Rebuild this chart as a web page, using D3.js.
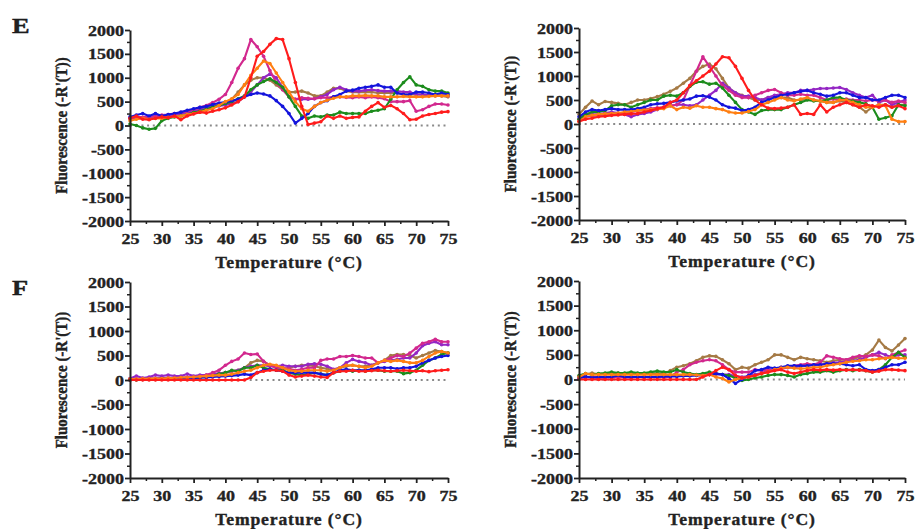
<!DOCTYPE html>
<html><head><meta charset="utf-8">
<script src="https://cdn.jsdelivr.net/npm/d3@7/dist/d3.min.js"></script>
<style>
body{margin:0;background:#fff;}
svg{display:block;}
text{font-family:"Liberation Serif","Times New Roman",serif;font-weight:bold;fill:#222;}
</style></head>
<body><svg id="chart" width="916" height="529"></svg>
<script>
const temps = d3.range(25, 76, 1);
const xTicks = [25,30,35,40,45,50,55,60,65,70,75];
const yTicks = [-2000,-1500,-1000,-500,0,500,1000,1500,2000];
const seriesNames = ["brown","purple","magenta","green","blue","orange","red"];
const seriesColors = {brown:"#a57a45",purple:"#9426c4",magenta:"#d2288e",green:"#1c8c1c",blue:"#1414dc",orange:"#ff7f12",red:"#ff1c1c"};

// Panel E left
const e1_blue=[180,220,250,200,250,200,230,250,280,320,350,380,400,440,470,490,520,550,600,650,680,660,620,520,400,250,50,150,250,400,480,520,600,650,720,740,780,800,820,850,800,800,680,650,650,700,700,680,650,680,650];
const e1_green=[30,0,-50,-80,-60,100,150,180,200,230,270,300,340,380,420,460,500,560,620,750,850,920,980,900,800,600,400,200,150,200,180,220,220,280,250,250,250,250,300,320,350,550,750,900,1020,850,820,750,720,720,680];
const e1_magenta=[150,180,170,180,200,220,230,250,270,300,330,380,420,480,550,650,900,1200,1400,1800,1650,1450,1150,900,750,600,550,580,570,560,580,580,600,600,590,580,600,580,600,580,560,500,500,500,520,300,330,400,450,450,430];
const e1_red=[150,200,130,120,150,180,160,200,120,200,240,280,260,300,330,370,430,500,600,1000,1450,1550,1700,1820,1800,1400,900,400,20,50,80,200,150,200,150,170,180,300,400,480,380,420,350,250,120,130,200,230,250,280,290];
const e1_orange=[100,130,150,130,150,150,170,190,200,230,250,280,320,350,420,500,560,650,850,1050,1200,1350,1300,1100,900,700,500,350,300,400,480,530,570,600,600,620,620,630,620,620,600,600,600,610,600,600,600,610,620,620,620];
const e1_brown=[150,170,160,170,180,180,200,220,250,280,300,330,370,400,440,480,550,700,850,950,1000,1000,950,850,750,700,700,720,680,620,620,700,780,780,720,700,700,700,700,680,680,680,680,650,650,650,650,630,620,620,600];
const e1_purple=[150,160,170,170,180,180,200,220,250,280,300,330,360,390,410,430,460,500,600,700,850,1000,1080,1000,800,600,550,550,550,560,600,650,750,800,750,720,720,740,750,730,720,720,720,700,700,650,650,640,630,630,620];

// Panel E right
const e2_brown=[200,350,480,400,470,450,430,400,450,500,500,530,570,620,680,750,850,950,1100,1200,1250,1150,950,750,650,600,550,500,500,550,550,550,550,500,500,520,500,480,450,450,480,450,400,350,250,350,400,400,350,400,400];
const e2_magenta=[100,150,170,180,190,200,220,230,250,270,300,320,340,350,380,400,500,800,1100,1400,1200,1000,800,700,600,550,550,600,650,700,720,650,600,600,620,600,600,550,500,520,500,520,500,500,480,500,480,500,450,480,450];
const e2_red=[50,100,120,150,160,180,190,200,210,220,250,280,320,350,450,500,650,800,900,1000,1100,1250,1400,1380,1200,950,700,500,400,330,320,330,350,400,200,220,200,400,250,350,400,450,400,350,400,380,350,400,350,380,320];
const e2_green=[100,200,250,250,280,380,400,400,350,400,450,500,500,580,600,580,650,780,870,880,830,850,750,600,450,300,250,200,280,300,300,300,350,400,450,500,480,480,500,550,550,500,480,450,420,350,100,130,170,400,380];
const e2_blue=[150,250,300,280,300,320,300,300,300,320,350,400,420,430,450,480,500,520,580,590,560,500,400,350,330,280,300,350,450,500,550,600,620,650,680,700,650,620,580,600,650,650,600,550,550,500,500,550,600,600,550];
const e2_purple=[100,200,200,200,230,250,230,200,150,200,220,250,300,350,380,400,400,380,400,500,600,700,850,750,650,580,580,550,500,550,600,620,650,650,700,700,720,740,740,750,760,720,650,600,550,600,450,500,400,450,500];
const e2_orange=[50,150,180,200,210,220,230,250,260,280,290,300,310,320,380,300,350,330,380,350,350,320,300,250,230,230,260,300,400,450,500,550,500,480,520,550,500,480,450,450,500,500,450,400,350,350,400,380,100,50,50];

// Panel F left
const f1_red=[0,0,0,0,0,0,0,0,0,0,0,0,0,0,0,0,0,0,0,50,150,180,200,200,180,100,60,80,100,80,60,50,150,180,180,200,180,180,190,200,190,180,190,200,190,180,190,170,190,200,210];
const f1_magenta=[20,20,20,30,30,30,40,40,40,50,50,70,100,150,200,300,380,430,550,520,530,380,300,250,250,230,200,220,250,250,400,430,430,480,480,500,480,450,450,350,400,450,500,480,550,650,750,780,830,780,780];
const f1_purple=[30,80,40,60,100,80,100,80,80,120,80,100,100,120,130,150,180,200,250,280,300,300,280,280,300,280,280,280,320,330,320,280,220,250,350,420,380,350,300,350,380,400,420,450,450,550,700,750,780,720,720];
const f1_brown=[20,20,30,30,30,40,40,40,50,50,50,70,90,110,130,150,180,200,250,350,400,380,300,250,220,250,280,300,300,280,250,230,200,250,280,300,280,280,300,350,400,500,520,520,500,450,500,550,600,580,550];
const f1_green=[0,0,10,10,10,20,20,20,30,30,30,50,60,80,120,150,200,180,250,250,300,250,220,200,200,150,120,100,120,150,120,100,150,180,200,180,200,180,200,200,180,180,180,130,150,200,300,400,450,520,550];
const f1_blue=[0,10,10,20,20,30,30,30,40,40,40,50,50,60,70,80,90,100,120,100,150,200,220,200,180,150,150,150,150,150,120,100,150,200,220,200,200,200,220,250,250,250,230,250,250,280,350,400,450,480,500];
const f1_orange=[20,20,25,25,30,30,40,40,50,50,60,70,80,90,100,100,120,150,180,200,250,300,320,300,250,200,180,180,200,200,200,180,200,250,300,300,280,250,280,350,400,380,400,380,350,350,400,480,550,580,550];

// Panel F right
const f2_brown=[50,100,130,100,120,120,130,120,120,120,110,120,120,120,180,250,280,320,380,450,480,470,400,320,200,250,230,300,350,400,500,500,450,400,450,420,400,380,350,380,400,400,420,450,500,600,800,650,580,700,830];
const f2_magenta=[50,50,50,50,50,50,50,50,50,50,50,50,50,50,50,150,200,300,350,380,400,380,300,200,150,150,150,200,180,200,200,250,250,280,300,320,300,350,480,450,420,400,450,480,470,500,480,420,500,550,600];
const f2_purple=[30,40,40,30,40,40,50,40,40,50,50,50,60,60,70,80,80,90,90,100,100,110,100,100,70,50,70,100,130,170,200,220,240,250,270,280,290,300,320,340,350,370,380,400,450,500,550,500,450,500,500];
const f2_green=[80,120,100,120,130,150,130,130,150,130,130,150,170,150,150,200,150,120,100,120,150,120,100,80,30,-20,0,30,50,80,100,100,80,50,100,120,150,150,180,150,180,200,180,200,180,150,200,300,450,550,450];
const f2_blue=[30,60,40,50,50,50,80,50,50,50,50,50,50,60,60,60,70,70,80,80,100,120,100,20,-80,0,80,180,200,250,230,250,280,280,280,280,300,300,320,320,320,300,280,300,200,180,200,250,300,300,350];
const f2_red=[0,0,0,0,0,0,0,0,0,0,0,0,0,0,0,0,0,0,0,50,100,180,250,200,80,30,50,80,120,150,180,200,150,120,150,180,200,190,200,190,200,190,200,190,180,150,170,200,200,190,180];
const f2_orange=[50,120,100,100,100,100,100,100,100,100,100,100,100,100,100,100,100,100,90,80,100,50,20,-50,0,30,50,80,120,150,200,230,250,230,220,230,250,250,280,300,320,350,370,380,400,400,420,430,450,430,430];

const panels = [
  {x0:130,x1:448,yT:30,yB:221,label:"E",lx:12,ly:33,ylx:63,
   data:{brown:e1_brown,purple:e1_purple,magenta:e1_magenta,green:e1_green,blue:e1_blue,orange:e1_orange,red:e1_red}},
  {x0:579,x1:905,yT:28,yB:220,label:null,ylx:512,
   data:{brown:e2_brown,purple:e2_purple,magenta:e2_magenta,green:e2_green,blue:e2_blue,orange:e2_orange,red:e2_red}},
  {x0:130,x1:448,yT:282,yB:478,label:"F",lx:12,ly:295,ylx:63,
   data:{brown:f1_brown,purple:f1_purple,magenta:f1_magenta,green:f1_green,blue:f1_blue,orange:f1_orange,red:f1_red}},
  {x0:579,x1:905,yT:281,yB:478,label:null,ylx:512,
   data:{brown:f2_brown,purple:f2_purple,magenta:f2_magenta,green:f2_green,blue:f2_blue,orange:f2_orange,red:f2_red}}
];

const svg = d3.select("#chart");
const SX = 1.2;
const fmt = d => String(d);

panels.forEach(p => {
  const x = d3.scaleLinear().domain([25,75]).range([p.x0,p.x1]);
  const y = d3.scaleLinear().domain([-2000,2000]).range([p.yB,p.yT]);
  const g = svg.append("g");

  // zero dotted line
  g.append("line").attr("x1",x(25)).attr("x2",x(75)).attr("y1",y(0)).attr("y2",y(0))
    .attr("stroke","#8a8a8a").attr("stroke-width",2).attr("stroke-dasharray","2,3.7");

  // series
  const line = d3.line().x((d,i)=>x(temps[i])).y(d=>y(d));
  seriesNames.forEach(name => {
    const vals = p.data[name];
    const c = seriesColors[name];
    g.append("path").datum(vals).attr("d",line).attr("fill","none")
      .attr("stroke",c).attr("stroke-width",2.1).attr("stroke-linejoin","round");
    g.selectAll(null).data(vals).enter().append("circle")
      .attr("cx",(d,i)=>x(temps[i])).attr("cy",d=>y(d)).attr("r",1.8).attr("fill",c);
  });

  // minor ticks
  const xa = g.append("g").attr("transform",`translate(0,${p.yB})`)
    .call(d3.axisBottom(x).tickValues(d3.range(27.5,75,5)).tickSize(3).tickFormat(""));
  xa.select(".domain").remove();
  const ya = g.append("g").attr("transform",`translate(${p.x0},0)`)
    .call(d3.axisLeft(y).tickValues(d3.range(-1750,2000,500)).tickSize(3).tickFormat(""));
  ya.select(".domain").remove();
  [xa,ya].forEach(a=>a.selectAll("line").attr("stroke","#222").attr("stroke-width",1.5));

  // major axes
  const xAxis = g.append("g").attr("transform",`translate(0,${p.yB})`)
    .call(d3.axisBottom(x).tickValues(xTicks).tickFormat(fmt).tickSize(5).tickSizeOuter(0));
  const yAxis = g.append("g").attr("transform",`translate(${p.x0},0)`)
    .call(d3.axisLeft(y).tickValues(yTicks).tickFormat(fmt).tickSize(5).tickSizeOuter(0));
  [xAxis,yAxis].forEach(a=>{
    a.select(".domain").attr("stroke","#222").attr("stroke-width",2);
    a.selectAll(".tick line").attr("stroke","#222").attr("stroke-width",1.8);
    a.selectAll("text").attr("font-size",15).attr("fill","#222")
      .attr("stroke","#222").attr("stroke-width",0.35)
      .style("font-family","'Liberation Serif',serif").style("font-weight","bold");
  });
  xAxis.selectAll("text").attr("x",0).attr("y",0).attr("dy",0)
    .attr("transform",`translate(0,23) scale(${SX},1)`);
  yAxis.selectAll("text").attr("x",0).attr("dy",0)
    .attr("transform",`translate(-6,5) scale(${SX},1)`);

  // axis titles
  g.append("text").attr("transform",`translate(${(p.x0+p.x1)/2},${p.yB+47}) scale(1.1,1)`)
    .attr("text-anchor","middle").attr("font-size",16).attr("letter-spacing","0.8px")
    .attr("stroke","#222").attr("stroke-width",0.35)
    .text("Temperature (°C)");
  g.append("text").attr("transform",`translate(${p.ylx},${(p.yT+p.yB)/2}) rotate(-90) scale(1,1.15)`)
    .attr("text-anchor","middle").attr("dominant-baseline","middle").attr("font-size",15)
    .attr("stroke","#222").attr("stroke-width",0.35)
    .text("Fluorescence (-R'(T))");

  if (p.label) {
    g.append("text").attr("transform",`translate(${p.lx},${p.ly}) scale(1.2,1)`)
      .attr("font-size",22).attr("fill","#111").attr("stroke","#111").attr("stroke-width",0.4).text(p.label);
  }
});
</script></body></html>
